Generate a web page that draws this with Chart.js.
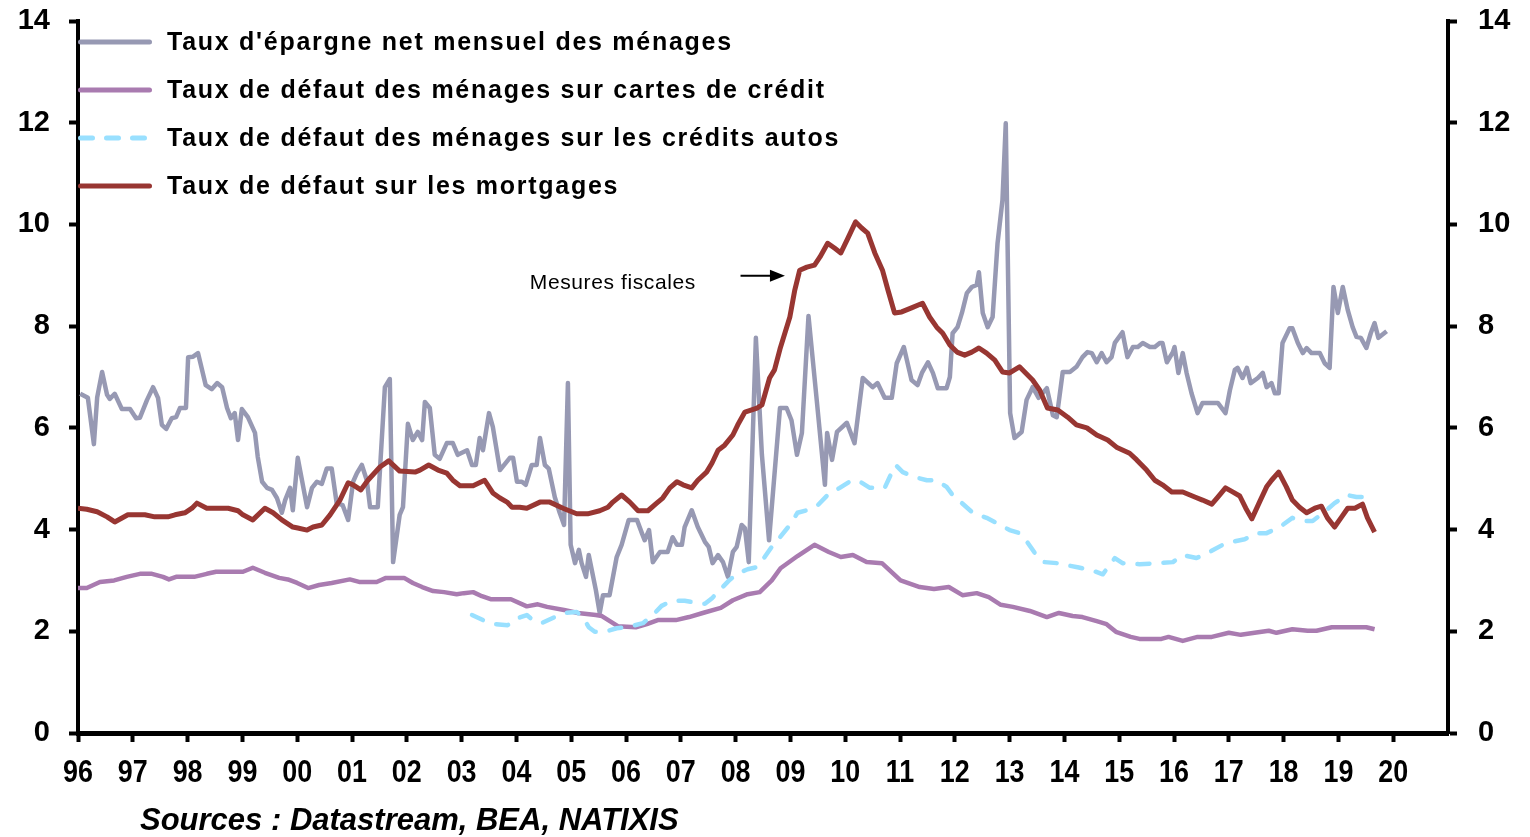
<!DOCTYPE html>
<html><head><meta charset="utf-8">
<script src="https://cdn.jsdelivr.net/npm/chart.js@4.4.1/dist/chart.umd.min.js"></script>
<style>html,body{margin:0;padding:0;background:#fff}canvas{display:block}</style>
</head><body>
<canvas id="c" width="1530" height="837"></canvas>
<script>
// ---------- DATA ----------
const seriesNames = [
  "Taux d'épargne net mensuel des ménages",
  "Taux de défaut des ménages sur cartes de crédit",
  "Taux de défaut des ménages sur les crédits autos",
  "Taux de défaut sur les mortgages"
];
const xTickLabels = ['96','97','98','99','00','01','02','03','04','05','06','07','08','09','10','11','12','13','14','15','16','17','18','19','20'];
const xTickYears = [1996,1997,1998,1999,2000,2001,2002,2003,2004,2005,2006,2007,2008,2009,2010,2011,2012,2013,2014,2015,2016,2017,2018,2019,2020,2021];
const yTickValues = [0,2,4,6,8,10,12,14];

const savingsDates = [1996.04,1996.18,1996.29,1996.35,1996.44,1996.53,1996.58,1996.67,1996.80,1996.95,1997.06,1997.13,1997.26,1997.37,1997.46,1997.53,1997.61,1997.71,1997.79,1997.86,1997.97,1998.01,1998.10,1998.19,1998.33,1998.44,1998.54,1998.63,1998.72,1998.79,1998.86,1998.92,1998.99,1999.10,1999.23,1999.28,1999.36,1999.45,1999.54,1999.63,1999.72,1999.78,1999.87,1999.92,2000.01,2000.18,2000.27,2000.36,2000.45,2000.54,2000.63,2000.72,2000.83,2000.93,2001.02,2001.09,2001.18,2001.27,2001.33,2001.47,2001.60,2001.69,2001.75,2001.87,2001.93,2002.02,2002.11,2002.20,2002.28,2002.33,2002.42,2002.51,2002.60,2002.73,2002.84,2002.93,2003.10,2003.19,2003.26,2003.33,2003.39,2003.50,2003.57,2003.70,2003.88,2003.94,2004.01,2004.10,2004.17,2004.28,2004.37,2004.43,2004.52,2004.59,2004.70,2004.79,2004.87,2004.94,2004.99,2005.07,2005.14,2005.19,2005.27,2005.32,2005.45,2005.52,2005.58,2005.70,2005.83,2005.92,2006.05,2006.20,2006.29,2006.34,2006.42,2006.49,2006.62,2006.76,2006.85,2006.93,2007.02,2007.07,2007.20,2007.31,2007.44,2007.51,2007.58,2007.68,2007.77,2007.86,2007.95,2008.02,2008.11,2008.17,2008.24,2008.37,2008.48,2008.61,2008.81,2008.93,2009.02,2009.12,2009.21,2009.33,2009.48,2009.63,2009.67,2009.76,2009.85,2010.03,2010.17,2010.32,2010.50,2010.59,2010.72,2010.85,2010.94,2011.07,2011.21,2011.32,2011.40,2011.51,2011.60,2011.69,2011.85,2011.91,2011.96,2012.05,2012.13,2012.22,2012.31,2012.40,2012.44,2012.51,2012.60,2012.69,2012.78,2012.87,2012.93,2013.01,2013.09,2013.22,2013.31,2013.42,2013.53,2013.68,2013.79,2013.86,2013.97,2014.10,2014.22,2014.33,2014.42,2014.50,2014.59,2014.68,2014.77,2014.86,2014.92,2015.06,2015.15,2015.25,2015.34,2015.43,2015.56,2015.65,2015.74,2015.79,2015.87,2015.98,2016.01,2016.08,2016.16,2016.23,2016.32,2016.43,2016.52,2016.80,2016.94,2017.02,2017.11,2017.16,2017.25,2017.33,2017.40,2017.53,2017.62,2017.69,2017.78,2017.84,2017.91,2017.98,2018.11,2018.16,2018.26,2018.35,2018.42,2018.51,2018.66,2018.75,2018.84,2018.91,2018.99,2019.08,2019.17,2019.26,2019.33,2019.41,2019.51,2019.59,2019.66,2019.73,2019.88];
const savingsValues = [6.67,6.59,5.68,6.6,7.1,6.65,6.57,6.67,6.37,6.37,6.19,6.2,6.55,6.8,6.59,6.06,5.98,6.19,6.21,6.39,6.39,7.39,7.4,7.47,6.84,6.76,6.88,6.8,6.39,6.19,6.29,5.76,6.37,6.21,5.9,5.43,4.94,4.82,4.78,4.62,4.33,4.58,4.82,4.38,5.41,4.44,4.82,4.94,4.9,5.2,5.2,4.52,4.48,4.19,4.94,5.11,5.27,4.97,4.44,4.44,6.8,6.96,3.36,4.29,4.44,6.08,5.76,5.92,5.76,6.51,6.39,5.47,5.39,5.7,5.7,5.47,5.56,5.27,5.27,5.8,5.56,6.29,6.02,5.17,5.41,5.41,4.94,4.94,4.88,5.27,5.27,5.8,5.27,5.2,4.64,4.33,4.09,6.88,3.7,3.34,3.6,3.34,3.07,3.5,2.81,2.36,2.71,2.71,3.46,3.7,4.19,4.19,3.93,3.79,3.99,3.36,3.56,3.56,3.85,3.7,3.7,4.05,4.38,4.05,3.76,3.66,3.34,3.5,3.36,3.07,3.56,3.66,4.09,4.03,3.36,7.77,5.47,3.79,6.39,6.39,6.15,5.47,5.9,8.2,6.55,4.88,5.9,5.37,5.92,6.1,5.7,6.98,6.8,6.88,6.59,6.59,7.27,7.59,6.94,6.84,7.08,7.29,7.08,6.78,6.78,7.0,7.86,7.98,8.26,8.65,8.77,8.81,9.06,8.26,7.98,8.18,9.63,10.48,11.99,6.29,5.8,5.92,6.55,6.8,6.59,6.78,6.25,6.21,7.1,7.1,7.2,7.39,7.49,7.47,7.29,7.47,7.29,7.39,7.67,7.88,7.39,7.59,7.59,7.67,7.59,7.59,7.67,7.67,7.29,7.49,7.59,7.08,7.47,7.08,6.68,6.29,6.49,6.49,6.29,6.74,7.14,7.18,6.98,7.18,6.88,6.98,7.08,6.8,6.88,6.68,6.68,7.67,7.96,7.96,7.67,7.47,7.57,7.47,7.47,7.27,7.18,8.77,8.26,8.77,8.32,7.98,7.79,7.77,7.57,7.86,8.06,7.77,7.9];

const cardDates = [1996.00,1996.16,1996.40,1996.66,1996.89,1997.13,1997.35,1997.55,1997.66,1997.79,1998.12,1998.35,1998.52,1999.01,1999.19,1999.41,1999.67,1999.83,2000.00,2000.20,2000.40,2000.63,2000.96,2001.13,2001.45,2001.62,2001.95,2002.11,2002.28,2002.48,2002.68,2002.91,2003.04,2003.21,2003.37,2003.53,2003.90,2004.19,2004.39,2004.56,2004.87,2005.12,2005.45,2005.56,2005.85,2006.18,2006.38,2006.58,2006.91,2007.15,2007.40,2007.73,2007.95,2008.22,2008.44,2008.66,2008.82,2009.13,2009.44,2009.70,2009.92,2010.14,2010.39,2010.67,2011.01,2011.36,2011.62,2011.89,2012.14,2012.40,2012.62,2012.84,2013.06,2013.37,2013.68,2013.90,2014.15,2014.33,2014.59,2014.77,2014.94,2015.21,2015.37,2015.77,2015.90,2016.16,2016.43,2016.69,2017.00,2017.22,2017.47,2017.73,2017.87,2018.16,2018.44,2018.60,2018.88,2019.39,2019.51,2019.66];
const cardValues = [2.85,2.85,2.97,3.0,3.07,3.13,3.13,3.07,3.02,3.07,3.07,3.13,3.17,3.17,3.25,3.15,3.05,3.02,2.95,2.85,2.91,2.95,3.02,2.97,2.97,3.05,3.05,2.95,2.87,2.79,2.77,2.73,2.75,2.77,2.69,2.63,2.63,2.49,2.53,2.48,2.42,2.36,2.32,2.3,2.1,2.08,2.14,2.22,2.22,2.28,2.36,2.46,2.61,2.73,2.77,3.0,3.24,3.48,3.7,3.56,3.46,3.5,3.36,3.34,3.0,2.87,2.83,2.87,2.71,2.75,2.67,2.52,2.48,2.4,2.28,2.36,2.3,2.28,2.2,2.14,1.99,1.89,1.85,1.85,1.89,1.81,1.89,1.89,1.97,1.93,1.97,2.01,1.97,2.04,2.01,2.01,2.08,2.08,2.08,2.04];

const autoDates = [2003.19,2003.39,2003.61,2003.84,2004.03,2004.19,2004.30,2004.46,2004.70,2004.88,2005.10,2005.21,2005.32,2005.43,2005.61,2005.83,2006.03,2006.31,2006.49,2006.65,2006.84,2007.07,2007.29,2007.44,2007.57,2007.71,2007.89,2008.04,2008.22,2008.39,2008.53,2008.66,2008.81,2008.99,2009.13,2009.30,2009.50,2009.68,2009.90,2010.12,2010.27,2010.45,2010.72,2010.81,2010.92,2011.05,2011.27,2011.49,2011.67,2011.85,2011.96,2012.13,2012.33,2012.58,2012.76,2013.00,2013.18,2013.33,2013.46,2013.64,2013.86,2014.04,2014.24,2014.50,2014.70,2014.92,2015.06,2015.37,2015.74,2015.98,2016.16,2016.41,2016.65,2016.89,2017.07,2017.29,2017.51,2017.69,2017.93,2018.16,2018.35,2018.53,2018.75,2018.93,2019.15,2019.33,2019.51,2019.66];
const autoValues = [2.32,2.22,2.14,2.12,2.26,2.32,2.22,2.16,2.28,2.36,2.38,2.28,2.08,1.99,1.99,2.06,2.08,2.16,2.32,2.5,2.6,2.6,2.56,2.54,2.65,2.81,3.01,3.14,3.22,3.26,3.46,3.66,3.85,4.09,4.33,4.38,4.48,4.68,4.82,4.97,4.94,4.82,4.82,5.03,5.27,5.13,5.03,4.97,4.97,4.84,4.68,4.52,4.33,4.23,4.13,3.99,3.93,3.74,3.54,3.36,3.34,3.3,3.26,3.2,3.12,3.44,3.34,3.32,3.34,3.36,3.5,3.44,3.56,3.7,3.76,3.81,3.93,3.93,4.05,4.23,4.17,4.17,4.35,4.52,4.68,4.64,4.64,4.68];

const mortgageDates = [1996.00,1996.16,1996.35,1996.53,1996.67,1996.91,1997.22,1997.40,1997.64,1997.77,1997.95,1998.08,1998.17,1998.35,1998.74,1998.92,1999.01,1999.19,1999.41,1999.56,1999.72,1999.92,2000.01,2000.18,2000.29,2000.45,2000.60,2000.78,2000.93,2001.02,2001.16,2001.29,2001.51,2001.67,2001.87,2002.15,2002.24,2002.40,2002.57,2002.73,2002.84,2002.97,2003.21,2003.42,2003.57,2003.70,2003.83,2003.92,2004.06,2004.19,2004.43,2004.61,2004.85,2005.10,2005.30,2005.52,2005.67,2005.76,2005.92,2006.07,2006.22,2006.40,2006.56,2006.67,2006.80,2006.93,2007.04,2007.20,2007.31,2007.47,2007.57,2007.68,2007.80,2007.95,2008.04,2008.17,2008.39,2008.48,2008.62,2008.71,2008.81,2008.99,2009.08,2009.17,2009.30,2009.44,2009.54,2009.68,2009.81,2009.92,2010.05,2010.19,2010.30,2010.41,2010.54,2010.68,2010.78,2010.90,2011.03,2011.21,2011.41,2011.54,2011.67,2011.78,2011.91,2012.04,2012.18,2012.31,2012.44,2012.58,2012.73,2012.87,2013.00,2013.18,2013.42,2013.55,2013.69,2013.88,2014.06,2014.22,2014.41,2014.59,2014.79,2014.95,2015.19,2015.32,2015.50,2015.65,2015.79,2015.96,2016.16,2016.38,2016.52,2016.69,2016.80,2016.94,2017.07,2017.20,2017.31,2017.42,2017.56,2017.69,2017.78,2017.91,2018.05,2018.16,2018.29,2018.42,2018.57,2018.69,2018.80,2018.93,2019.06,2019.17,2019.30,2019.44,2019.53,2019.66];
const mortgageValues = [4.42,4.4,4.35,4.25,4.15,4.29,4.29,4.25,4.25,4.29,4.33,4.42,4.52,4.42,4.42,4.37,4.29,4.19,4.42,4.33,4.19,4.05,4.03,3.99,4.05,4.09,4.29,4.58,4.92,4.88,4.78,4.97,5.23,5.35,5.15,5.13,5.17,5.27,5.17,5.11,4.97,4.86,4.86,4.97,4.72,4.62,4.54,4.44,4.44,4.42,4.54,4.54,4.42,4.31,4.31,4.37,4.44,4.54,4.68,4.54,4.37,4.37,4.52,4.62,4.82,4.94,4.88,4.82,4.97,5.13,5.31,5.56,5.66,5.86,6.06,6.31,6.39,6.45,6.98,7.14,7.55,8.18,8.71,9.1,9.16,9.2,9.36,9.63,9.53,9.44,9.73,10.05,9.93,9.83,9.44,9.1,8.71,8.26,8.28,8.36,8.45,8.18,7.98,7.86,7.63,7.49,7.43,7.49,7.57,7.47,7.33,7.1,7.08,7.2,6.94,6.74,6.39,6.35,6.21,6.06,6.0,5.86,5.76,5.62,5.5,5.37,5.17,4.97,4.88,4.74,4.74,4.64,4.58,4.5,4.64,4.82,4.74,4.66,4.42,4.21,4.54,4.84,4.97,5.13,4.84,4.58,4.44,4.33,4.42,4.46,4.23,4.05,4.25,4.42,4.42,4.5,4.23,3.95];

const annotationText = 'Mesures fiscales';
const sourceText = 'Sources : Datastream, BEA, NATIXIS';

// ---------- CHART ----------
const pts = (xs, ys) => xs.map((x, i) => ({ x: x, y: ys[i] }));
const FONT = "'Liberation Sans', Arial, sans-serif";
const colors = ['#9799B3', '#A97BB0', '#99E0FF', '#983632'];

const legendPlugin = {
  id: 'customLegend',
  afterDraw(chart) {
    const ctx = chart.ctx;
    ctx.save();
    ctx.font = 'bold 25px ' + FONT;
    const base = ctx.measureText(seriesNames[0]).width;
    const ls = Math.max(0, (566 - base) / seriesNames[0].length);
    chart.data.datasets.forEach((ds, i) => {
      const y = 42 + i * 48;
      ctx.strokeStyle = ds.borderColor;
      ctx.lineWidth = 5;
      ctx.lineCap = 'round';
      ctx.setLineDash(ds.borderDash || []);
      ctx.beginPath();
      ctx.moveTo(80.5, y);
      ctx.lineTo(149.5, y);
      ctx.stroke();
      ctx.setLineDash([]);
      ctx.fillStyle = '#000';
      ctx.textBaseline = 'middle';
      ctx.textAlign = 'left';
      try { ctx.letterSpacing = ls.toFixed(2) + 'px'; } catch (e) {}
      ctx.fillText(seriesNames[i], 167, y + 1);
    });
    ctx.restore();
  }
};

const annotationPlugin = {
  id: 'annot',
  afterDraw(chart) {
    const ctx = chart.ctx, xs = chart.scales.x, ys = chart.scales.y;
    ctx.save();
    ctx.fillStyle = '#000';
    ctx.font = '21px ' + FONT;
    ctx.textBaseline = 'middle';
    ctx.textAlign = 'left';
    try { ctx.letterSpacing = '0.6px'; } catch (e) {}
    ctx.fillText(annotationText, xs.getPixelForValue(2004.245), ys.getPixelForValue(8.85));
    const x1 = xs.getPixelForValue(2008.09), x2 = xs.getPixelForValue(2008.90), y = ys.getPixelForValue(8.99);
    ctx.strokeStyle = '#000';
    ctx.lineWidth = 2;
    ctx.beginPath(); ctx.moveTo(x1, y); ctx.lineTo(x2 - 12, y); ctx.stroke();
    ctx.beginPath(); ctx.moveTo(x2, y); ctx.lineTo(x2 - 15, y - 6); ctx.lineTo(x2 - 15, y + 6); ctx.closePath(); ctx.fill();
    // source
    ctx.font = 'italic bold 31px ' + FONT;
    try { ctx.letterSpacing = '0px'; } catch (e) {}
    ctx.textBaseline = 'middle';
    ctx.fillText(sourceText, 140, 821, 542);
    ctx.restore();
  }
};

// x tick labels drawn horizontally condensed (the original uses a narrow bold face)
const narrowTicksPlugin = {
  id: 'narrowTicks',
  afterDraw(chart) {
    const ctx = chart.ctx, xs = chart.scales.x;
    ctx.save();
    ctx.fillStyle = '#000';
    ctx.font = 'bold 32px ' + FONT;
    ctx.textAlign = 'center';
    ctx.textBaseline = 'middle';
    xTickLabels.forEach((lab, i) => {
      const px = xs.getPixelForValue(xTickYears[i]);
      ctx.save();
      ctx.translate(px, 773);
      ctx.scale(0.84, 1);
      ctx.fillText(lab, 0, 0);
      ctx.restore();
    });
    ctx.restore();
  }
};

const gridOpts = { display: true, drawOnChartArea: false, drawTicks: true, tickLength: 9, tickWidth: 4, tickColor: '#000' };
const noVPad = (s, w) => { s.width = w; s.paddingTop = 0; s.paddingBottom = 0; };

new Chart(document.getElementById('c'), {
  type: 'line',
  data: {
    datasets: [
      { label: seriesNames[0], data: pts(savingsDates, savingsValues), borderColor: colors[0], borderWidth: 4.5, order: 3 },
      { label: seriesNames[1], data: pts(cardDates, cardValues), borderColor: colors[1], borderWidth: 4.5, order: 2 },
      { label: seriesNames[2], data: pts(autoDates, autoValues), borderColor: colors[2], borderWidth: 4.5, borderDash: [12, 14], borderCapStyle: 'round', order: 1 },
      { label: seriesNames[3], data: pts(mortgageDates, mortgageValues), borderColor: colors[3], borderWidth: 5, order: 0 }
    ]
  },
  options: {
    responsive: false,
    devicePixelRatio: 1,
    animation: false,
    layout: { autoPadding: false, padding: { top: 21, left: 0, right: 0, bottom: 0 } },
    elements: { point: { radius: 0 }, line: { tension: 0, borderJoinStyle: 'round', fill: false } },
    plugins: { legend: { display: false }, tooltip: { enabled: false } },
    scales: {
      x: {
        type: 'linear', position: 'bottom', min: 1996, max: 2021,
        afterFit(s) { s.height = 104; s.paddingLeft = 0; s.paddingRight = 0; },
        afterBuildTicks(s) { s.ticks = xTickYears.map(v => ({ value: v })); },
        ticks: {
          autoSkip: false, maxRotation: 0, minRotation: 0, padding: 12, color: 'rgba(0,0,0,0)',
          font: { family: FONT, size: 32, weight: 'bold' },
          callback: (v) => { const i = xTickYears.indexOf(Math.round(v)); return i >= 0 && i < xTickLabels.length ? xTickLabels[i] : null; }
        },
        grid: gridOpts,
        border: { display: true, color: '#000', width: 5 }
      },
      y: {
        position: 'left', min: 0, max: 14,
        afterFit(s) { noVPad(s, 78); },
        afterBuildTicks(s) { s.ticks = yTickValues.map(v => ({ value: v })); },
        ticks: { padding: 19, color: '#000', font: { family: FONT, size: 29, weight: 'bold' } },
        grid: gridOpts,
        border: { display: true, color: '#000', width: 4 }
      },
      y2: {
        position: 'right', min: 0, max: 14,
        afterFit(s) { noVPad(s, 82); },
        afterBuildTicks(s) { s.ticks = yTickValues.map(v => ({ value: v })); },
        ticks: { padding: 21, color: '#000', font: { family: FONT, size: 29, weight: 'bold' } },
        grid: gridOpts,
        border: { display: true, color: '#000', width: 4 }
      }
    }
  },
  plugins: [legendPlugin, annotationPlugin, narrowTicksPlugin]
});
</script>
</body></html>
